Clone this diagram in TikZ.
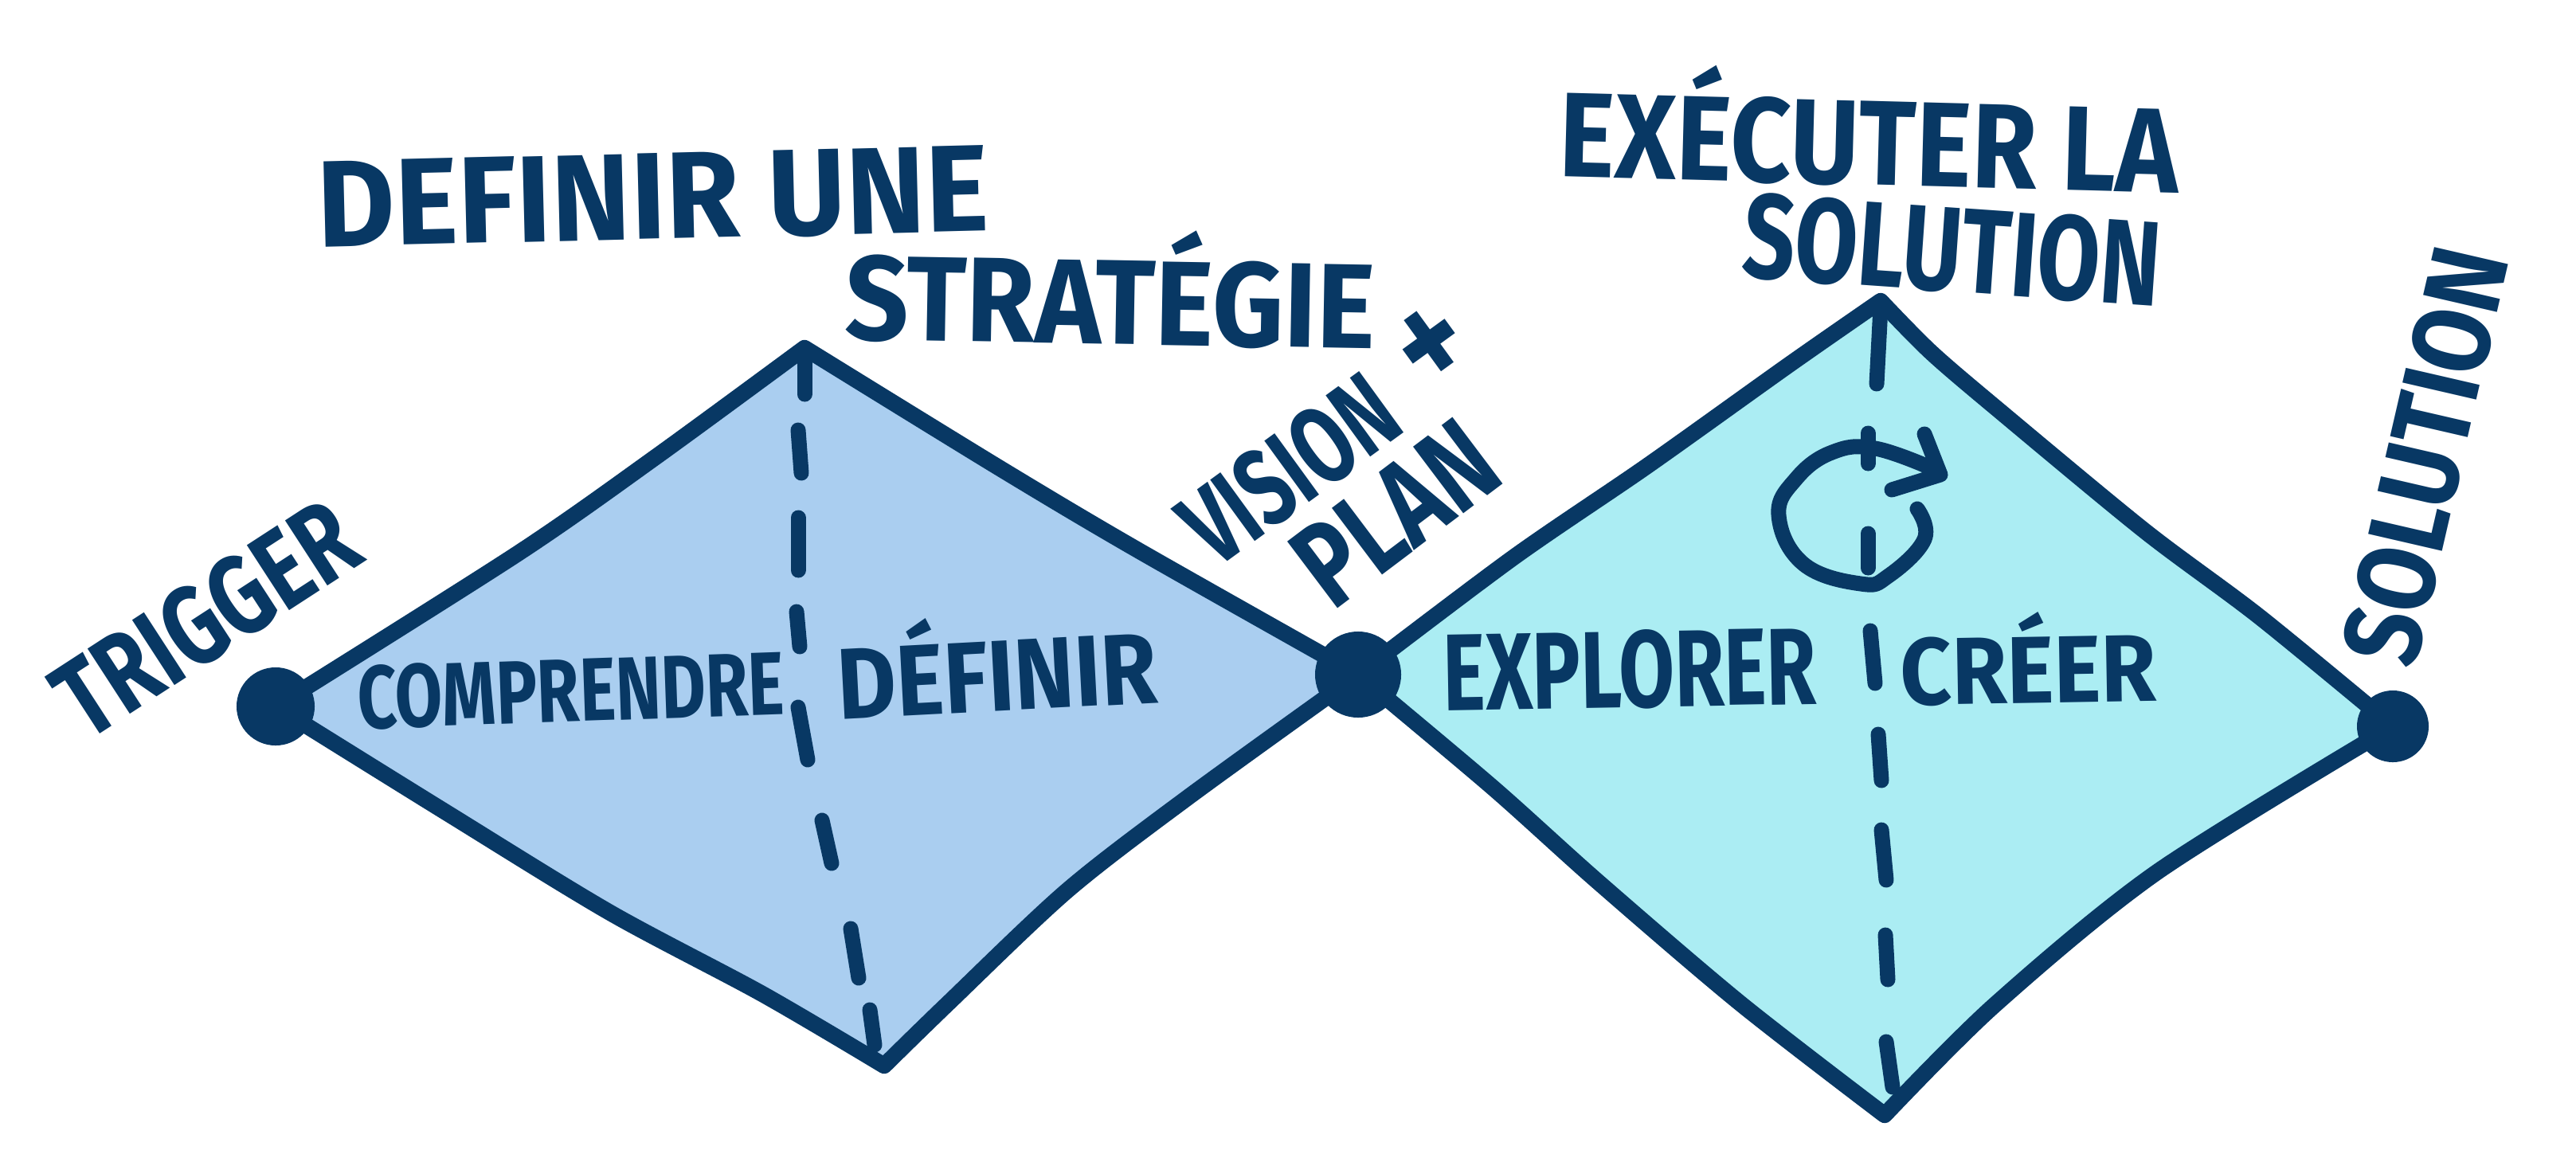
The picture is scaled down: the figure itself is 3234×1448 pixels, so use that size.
\documentclass[tikz,border=0pt]{standalone}
\usepackage{graphicx}
\usepackage{fontspec}
\setmainfont{Fira Sans}
\usetikzlibrary{arrows.meta}
\definecolor{ink}{RGB}{8,56,100}
\definecolor{leftfill}{RGB}{170,206,240}
\definecolor{rightfill}{RGB}{171,237,243}
\newcommand{\hw}[3]{\fontsize{#1}{#1}\selectfont\bfseries\resizebox{#2cm}{\height}{#3}}
\tikzset{
  hand/.style={text=ink,anchor=base,inner sep=0pt,outer sep=0pt},
  outline/.style={draw=ink,line width=5.8pt,line join=round,line cap=round},
  dashpart/.style={draw=ink,line width=5.4pt,line cap=round},
  dotnode/.style={circle,fill=ink,inner sep=0pt}
}
\begin{document}
\begin{tikzpicture}[x=0.01cm,y=-0.01cm]
\useasboundingbox (0,0) rectangle (3234,1448);
% apexes
\coordinate (T1) at (1010,437);
\coordinate (B1) at (1110,1338);
\coordinate (T2) at (2361,378);
\coordinate (B2) at (2366,1400);
\coordinate (LL) at (346,887);
\coordinate (MM) at (1705,847);
\coordinate (RR) at (3004,912);
% left diamond
\path[outline,fill=leftfill]
  plot[smooth,tension=.5] coordinates {(LL) (650,695) (823,574) (T1)}
  -- plot[smooth,tension=.5] coordinates {(T1) (1257,589) (1429,691) (MM)}
  -- plot[smooth,tension=.5] coordinates {(MM) (1493,1000) (1340,1118) (1190,1260) (B1)}
  -- plot[smooth,tension=.5] coordinates {(B1) (957,1248) (766,1146) (560,1020) (LL)};
% right diamond
\path[outline,fill=rightfill]
  plot[smooth,tension=.5] coordinates {(MM) (1900,700) (2068,585) (2246,458) (T2)}
  -- plot[smooth,tension=.5] coordinates {(T2) (2425,443) (2514,519) (2693,667) (2836,774) (RR)}
  -- plot[smooth,tension=.5] coordinates {(RR) (2708,1095) (2504,1262) (B2)}
  -- plot[smooth,tension=.5] coordinates {(B2) (2185,1260) (2007,1108) (1873,988) (MM)};
% dots
\node[dotnode,minimum size=0.98cm] (trigger) at (LL) {};
\node[dotnode,minimum size=1.08cm] (vision) at (MM) {};
\node[dotnode,minimum size=0.90cm] (solution) at (RR) {};
% dashed axes
\foreach \a/\b in {{1010,437}/{1010,495},{1002,540}/{1006,594},{1002,650}/{1002,716},{1000,768}/{1004,812},{1002,888}/{1014,954},{1032,1030}/{1044,1084},{1068,1166}/{1078,1228},{1092,1268}/{1098,1312}}
  \draw[dashpart] (\a) -- (\b);
\foreach \a/\b in {{2361,385}/{2356,482},{2345,544}/{2345,582},{2345,670}/{2345,713},{2348,792}/{2354,858},{2358,922}/{2362,980},{2362,1042}/{2368,1105},{2367,1174}/{2370,1230},{2368,1308}/{2376,1365}}
  \draw[dashpart] (\a) -- (\b);
% loop arrow
\draw[dashpart,line join=round]
  plot[smooth,tension=.7] coordinates {(2407,639) (2416,677) (2371,723) (2336,733) (2264,708) (2233,647) (2255,601) (2300,568) (2354,563) (2430,590)};
\draw[dashpart,line join=round] (2416,545) -- (2436,596) -- (2375,615);
% labels
\node[hand] (lstrat1) at (821,300) [rotate=1.4] {\hw{44}{8.42}{DEFINIR UNE}};
\node[hand] (lstrat2) at (1393,432) [rotate=-1] {\hw{43}{6.65}{STRATÉGIE}};
\node[hand] (ltrig) at (285,818) [rotate=33] {\hw{40}{4.2}{TRIGGER}};
\node[hand] (lcomp) at (718,906) [rotate=2] {\hw{32}{5.36}{COMPRENDRE}};
\node[hand] (ldef) at (1254,893) [rotate=3] {\hw{36}{4.02}{DÉFINIR}};
\node[hand] (lvis) at (1647,628) [rotate=36] {\hw{39}{2.99}{VISION}};
\node[hand] (lplus) at (1830,478) [rotate=36] {\hw{52}{0.8}{+}};
\node[hand] (lplan) at (1783,686) [rotate=37] {\hw{43}{2.74}{PLAN}};
\node[hand] (lexp) at (2047,888) [rotate=1] {\hw{39}{4.68}{EXPLORER}};
\node[hand] (lcre) at (2547,883) [rotate=1] {\hw{34}{3.21}{CRÉER}};
\node[hand] (lexe) at (2345,232) [rotate=-1.5] {\hw{43}{7.77}{EXÉCUTER LA}};
\node[hand] (lsol) at (2447,366) [rotate=-4] {\hw{43}{5.25}{SOLUTION}};
\node[hand] (lsolr) at (3091,583) [rotate=77] {\hw{39}{5.30}{SOLUTION}};
\end{tikzpicture}
\end{document}
